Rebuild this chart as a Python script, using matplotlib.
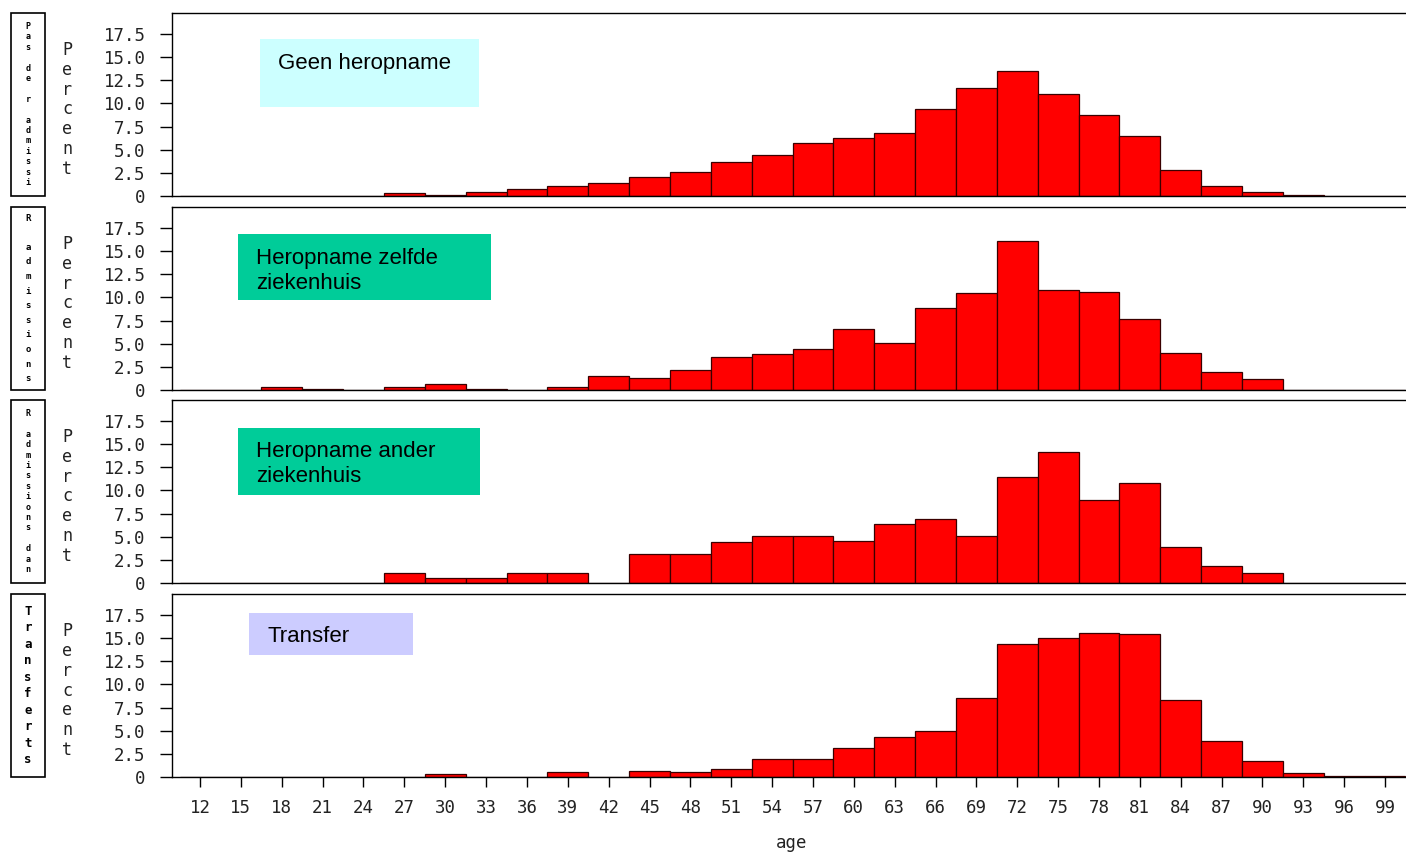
import matplotlib
matplotlib.use("Agg")
import matplotlib.pyplot as plt
from matplotlib.patches import Rectangle

# ---------------- data ----------------
ages = [12, 15, 18, 21, 24, 27, 30, 33, 36, 39, 42, 45, 48, 51, 54, 57,
        60, 63, 66, 69, 72, 75, 78, 81, 84, 87, 90, 93, 96, 99]

pct_geen = [0, 0, 0, 0, 0, 0.3, 0.15, 0.45, 0.75, 1.1, 1.35, 2.0, 2.6, 3.7,
            4.4, 5.7, 6.25, 6.8, 9.4, 11.65, 13.5, 11.0, 8.75, 6.5, 2.8,
            1.1, 0.45, 0.15, 0, 0]
pct_zelfde = [0, 0, 0.35, 0.15, 0, 0.3, 0.6, 0.1, 0, 0.3, 1.55, 1.3, 2.15,
              3.55, 3.9, 4.4, 6.6, 5.1, 8.85, 10.5, 16.1, 10.8, 10.6, 7.65,
              4.0, 1.95, 1.2, 0, 0, 0]
pct_ander = [0, 0, 0, 0, 0, 1.05, 0.55, 0.55, 1.05, 1.05, 0, 3.15, 3.15,
             4.4, 5.1, 5.1, 4.55, 6.35, 6.9, 5.1, 11.45, 14.15, 8.95, 10.8,
             3.9, 1.85, 1.1, 0, 0, 0]
pct_transfer = [0, 0, 0, 0, 0, 0, 0.35, 0, 0, 0.55, 0, 0.7, 0.5, 0.85,
                1.9, 1.9, 3.15, 4.3, 4.95, 8.5, 14.35, 15.0, 15.55, 15.45,
                8.3, 3.85, 1.75, 0.45, 0.15, 0.15]

series = [pct_geen, pct_zelfde, pct_ander, pct_transfer]
row_labels = ["Pas de r admissi", "R admissions", "R admissions dan", "Transferts"]
box_texts = ["Geen heropname", "Heropname zelfde\nziekenhuis",
             "Heropname ander\nziekenhuis", "Transfer"]
box_colors = ["#ccffff", "#00cc99", "#00cc99", "#ccccff"]

ytick_vals = [0, 2.5, 5.0, 7.5, 10.0, 12.5, 15.0, 17.5]
ytick_labels = ["0", "2.5", "5.0", "7.5", "10.0", "12.5", "15.0", "17.5"]

# ---------------- layout ----------------
W, H = 1406, 852
fig = plt.figure(figsize=(W / 100, H / 100), dpi=100)

def fx(px):
    return px / W

def fy(py):
    return 1 - py / H

tops = [13, 207, 400, 594]
bots = [196, 390, 583, 777]
left_px = 172
xlo, xhi = 9.94, 101.0
px_per_year = 13.62
right_px = left_px + (xhi - xlo) * px_per_year

tick_font = "DejaVu Sans Mono"
tcolor = "#222222"

# row label layout: (fontsize, linespacing)
row_fmt = [(6, 1.2), (6.5, 1.8), (6, 1.2), (9, 1.35)]
box_geom = [(260, 39, 479, 107), (238, 234, 491, 300),
            (238, 428, 480, 495), (249, 613, 413, 655)]
text_pos = [(278, 63), (256, 271), (256, 464), (267, 636)]

for i, vals in enumerate(series):
    top, bot = tops[i], bots[i]
    ax = fig.add_axes([fx(left_px), fy(bot), fx(right_px - left_px),
                       (bot - top) / H])
    ax.bar(ages, vals, width=3, color="#ff0000", edgecolor="#3a0000",
           linewidth=0.9, align="center")
    ax.set_xlim(xlo, xhi)
    ax.set_ylim(0, (bot - top) / 9.26)
    ax.set_yticks(ytick_vals)
    ax.set_yticklabels(ytick_labels, fontfamily=tick_font, fontsize=12.5,
                       color=tcolor)
    ax.tick_params(axis="y", length=9, width=1, pad=10, color="black")
    for s in ["left", "top", "bottom"]:
        ax.spines[s].set_color("black")
        ax.spines[s].set_linewidth(1)
    ax.spines["right"].set_visible(False)
    if i == 3:
        ax.set_xticks(ages)
        ax.set_xticklabels([str(a) for a in ages], fontfamily=tick_font,
                           fontsize=12.5, color=tcolor)
        ax.tick_params(axis="x", length=7, width=1, pad=9, color="black")
        ax.set_xlabel("age", fontfamily=tick_font, fontsize=12.5,
                      color=tcolor, labelpad=12)
    else:
        ax.set_xticks([])

    # "Percent" stacked label
    fig.text(fx(67), fy((top + bot) / 2 + 5), "\n".join("Percent"),
             fontfamily=tick_font, fontsize=12, color=tcolor,
             ha="center", va="center", linespacing=1.12)

    # row header box
    fig.patches.append(Rectangle((fx(11), fy(bot)), fx(34), (bot - top) / H,
                                 transform=fig.transFigure, fill=False,
                                 edgecolor="black", linewidth=1.2))
    fs, ls = row_fmt[i]
    fig.text(fx(28), fy((top + bot) / 2), "\n".join(row_labels[i]),
             fontfamily=tick_font, fontsize=fs, color="black",
             fontweight="bold", ha="center", va="center", linespacing=ls)

    # annotation box
    x0, y0, x1, y1 = box_geom[i]
    fig.patches.append(Rectangle((fx(x0), fy(y1)), fx(x1 - x0), (y1 - y0) / H,
                                 transform=fig.transFigure,
                                 facecolor=box_colors[i], edgecolor="none",
                                 zorder=5))
    tx, ty = text_pos[i]
    fig.text(fx(tx), fy(ty), box_texts[i], fontfamily="Liberation Sans",
             fontsize=16, color="black", ha="left", va="center",
             linespacing=1.25, zorder=6)

fig.savefig("out.png", dpi=100)
